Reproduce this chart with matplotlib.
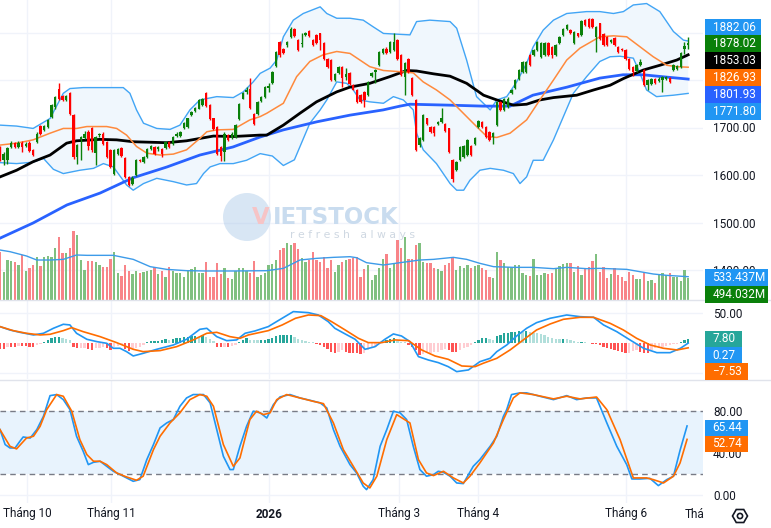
import matplotlib
matplotlib.use("Agg")
import matplotlib.pyplot as plt
from matplotlib.patches import Rectangle, Circle, RegularPolygon
from matplotlib.lines import Line2D
from matplotlib.transforms import IdentityTransform
import numpy as np

plt.rcParams['font.family'] = ['Roboto', 'DejaVu Sans']

# ---------------- data ----------------
opens = [1659,1631,1632,1659,1668,1659,1668,1662,1668,1652,1670,1703,1694,1701,1722,1743,1782,1766,1758,1772,
         1726,1638,1676,1678,1691,1698,1647,1684,1687,1670,1652,1603,1645,1657,1636,1596,1582,1600,1632,1628,
         1637,1654,1659,1654,1654,1656,1670,1666,1682,1683,1698,1701,1726,1735,1740,1747,1772,1747,1719,1701,
         1659,1649,1684,1677,1679,1717,1761,1775,1782,1729,1729,1756,1764,1784,1793,1829,1880,1866,1873,1891,
         1908,1884,1875,1894,1903,1884,1894,1898,1878,1845,1842,1800,1815,1828,1807,1815,1789,1779,1768,1775,
         1768,1808,1817,1831,1856,1866,1859,1863,1884,1852,1807,1845,1805,1758,1663,1673,1719,1701,1701,1707,
         1712,1708,1698,1631,1610,1631,1638,1642,1662,1665,1701,1712,1701,1691,1679,1705,1754,1736,1743,1773,
         1784,1803,1817,1817,1852,1852,1863,1849,1852,1877,1870,1852,1877,1894,1908,1905,1877,1898,1894,1927,
         1929,1929,1891,1919,1896,1891,1880,1889,1870,1866,1863,1845,1828,1819,1831,1821,1789,1791,1803,1798,
         1800,1803,1805,1821,1824,1828,1866,1873]
highs = [1662,1648,1659,1671,1670,1672,1671,1669,1671,1655,1690,1706,1705,1718,1749,1767,1793,1768,1768,1774,
         1728,1666,1683,1693,1694,1701,1683,1689,1690,1672,1655,1655,1657,1660,1638,1598,1597,1633,1634,1640,
         1656,1663,1661,1662,1656,1672,1672,1683,1691,1693,1712,1721,1735,1744,1760,1762,1774,1749,1721,1703,
         1661,1690,1686,1690,1707,1752,1775,1786,1805,1731,1756,1766,1788,1793,1819,1861,1882,1868,1882,1911,
         1910,1886,1898,1901,1906,1886,1897,1900,1880,1847,1844,1814,1830,1830,1826,1817,1791,1781,1770,1777,
         1798,1817,1824,1861,1868,1869,1882,1898,1886,1854,1837,1847,1807,1760,1680,1728,1721,1703,1703,1714,
         1742,1710,1700,1633,1630,1661,1663,1675,1664,1679,1716,1714,1703,1693,1691,1756,1756,1763,1764,1781,
         1802,1823,1840,1841,1854,1865,1882,1880,1880,1879,1872,1875,1893,1910,1917,1907,1903,1900,1926,1929,
         1931,1931,1914,1921,1898,1893,1887,1891,1872,1868,1865,1847,1830,1833,1845,1823,1802,1805,1805,1806,
         1809,1809,1807,1833,1831,1859,1880,1890]
lows = [1630,1621,1624,1656,1657,1656,1649,1659,1648,1640,1668,1684,1692,1699,1720,1740,1757,1755,1755,1727,
        1634,1624,1631,1676,1652,1649,1621,1681,1664,1636,1615,1600,1643,1637,1594,1576,1578,1598,1627,1626,
        1635,1652,1643,1651,1637,1654,1657,1664,1680,1681,1696,1699,1724,1733,1738,1745,1743,1716,1694,1642,
        1630,1630,1671,1675,1677,1715,1759,1770,1740,1705,1727,1754,1762,1775,1791,1827,1848,1854,1870,1889,
        1890,1862,1870,1892,1890,1871,1875,1863,1843,1826,1798,1798,1813,1786,1800,1789,1778,1752,1752,1743,
        1766,1806,1793,1829,1854,1855,1857,1861,1843,1808,1768,1815,1766,1650,1660,1671,1705,1689,1682,1705,
        1710,1691,1647,1585,1608,1629,1636,1640,1640,1663,1699,1699,1678,1671,1666,1703,1734,1734,1741,1771,
        1782,1801,1815,1815,1829,1850,1861,1846,1850,1850,1846,1850,1875,1892,1906,1896,1875,1890,1892,1913,
        1910,1910,1859,1885,1871,1871,1878,1871,1857,1861,1843,1822,1808,1817,1829,1787,1780,1789,1791,1796,
        1775,1801,1794,1819,1822,1826,1855,1865]
closes = [1638,1645,1656,1668,1659,1668,1659,1666,1651,1642,1687,1686,1703,1715,1747,1764,1759,1758,1766,1729,
          1637,1663,1680,1687,1661,1652,1680,1686,1666,1638,1617,1652,1654,1639,1596,1580,1594,1631,1629,1638,
          1654,1661,1645,1659,1644,1670,1659,1680,1687,1690,1710,1719,1733,1742,1758,1759,1745,1718,1696,1644,
          1639,1687,1673,1687,1705,1750,1772,1780,1742,1707,1754,1764,1786,1787,1817,1859,1852,1856,1880,1908,
          1892,1864,1878,1899,1892,1873,1877,1885,1845,1828,1800,1812,1828,1805,1813,1791,1780,1754,1754,1758,
          1796,1815,1822,1859,1866,1857,1880,1880,1845,1810,1835,1817,1768,1652,1677,1726,1707,1691,1689,1712,
          1719,1693,1649,1592,1628,1659,1661,1673,1642,1677,1714,1701,1680,1673,1689,1754,1736,1761,1761,1779,
          1800,1821,1838,1838,1831,1863,1880,1877,1878,1852,1852,1873,1891,1908,1915,1898,1901,1892,1924,1915,
          1912,1912,1912,1887,1873,1873,1885,1873,1859,1863,1845,1824,1817,1831,1838,1789,1800,1803,1793,1803,
          1807,1807,1796,1831,1829,1857,1871,1878.02]
volumes = [1106,648,915,892,877,801,1030,671,740,801,991,778,991,1007,976,1182,1449,1083,1068,1182,
           1586,1487,915,686,892,892,877,801,763,763,938,1106,625,549,801,671,595,671,625,648,
           664,686,747,595,671,534,747,671,610,625,534,671,701,747,610,610,877,518,518,839,
           595,724,496,473,671,724,724,671,610,900,534,572,610,801,824,915,1144,1182,1297,1258,
           1312,1159,953,877,915,1106,915,877,976,724,915,648,801,877,915,930,953,991,518,701,
           801,458,572,724,938,1052,724,839,1373,1182,1434,930,930,1258,1312,877,854,854,724,701,
           671,801,854,976,686,778,724,801,740,778,801,724,686,534,511,1106,915,854,763,747,
           801,801,610,572,549,938,572,572,610,587,610,701,778,824,839,854,641,778,572,724,
           747,900,1052,648,747,511,595,724,572,518,442,641,572,473,473,625,442,458,397,572,
           610,572,610,518,534,442,686,494.032]
macd_hist = [-10,-10,-5.6,-5.6,-5.6,-4.4,-4.4,-4.4,-5.6,-6,-2.8,-1.7,1.7,5.6,8.3,10,11.1,8.3,7.8,5.6,
             -5.6,-8.3,-8,-7.8,-9.4,-11.1,-8.3,-8,-5.6,-8.3,-11.1,-6.7,-4.4,-2.8,-10,-12.2,-10,-8.3,-5.6,-2.8,
             1.7,3.9,4,4.4,5.6,6.7,5.6,7.2,8.3,9.4,10.6,11.1,12.2,12.8,11.1,13.9,11.1,6.7,4.4,-5.6,
             -6.7,-5.6,-6.7,-4.4,-2.5,2,5.6,9.4,5.6,5.4,5.2,5.6,5.8,7.2,9.4,12.2,13.9,14,14.2,14.4,
             11.1,7.2,5.6,4.4,2.8,1.7,-1.1,-2.8,-5.6,-10,-13.9,-15.6,-13.9,-11.1,-13.9,-15.6,-15.8,-16.7,-17.8,-15.6,
             -11.1,-8.3,-5.6,-1.7,2.8,5.6,7.2,8.3,4.4,2.8,1.7,-2.8,-5.6,-11.1,-19.4,-18,-16.7,-15.6,-14.8,-13.9,
             -11.1,-10,-11.1,-13.9,-14,-11.1,-8.3,-5.6,-2.2,1.5,5.6,9.4,9.5,7.2,5.6,12.2,13.9,16.7,17.8,18.3,
             19.4,20.6,19.4,21.1,18.3,16.7,16.5,15,13.9,10,8.3,7.2,7.0,7.3,6.7,5.6,4.4,2.8,2.9,1.7,
             1.1,-1.7,-1.8,-2.8,-5.6,-7.2,-9.4,-11.1,-12.2,-13.9,-15.6,-15.4,-12.2,-11.1,-13.9,-15.6,-15.7,-11.1,-8.3,-7.2,
             -5.6,-4.4,-2.8,-1.7,-1.1,2.8,5.6,7.80]

# indicator lines (date index, value)
bb_upper_idx = [0,4.5,9,13.6,17.2,19,22.6,29,33.5,35.3,37.1,39,42.6,46.2,48.9,51.6,54.3,58.9,63.4,66.1,68.8,70.7,73.4,
                75.2,77,79.7,82.4,87,88.8,91.5,95.1,98.7,101.4,104.2,111.4,113.2,116.8,122.3,124.1,126.8,129.5,133.2,
                135,137.7,140.4,143.1,144.9,147.6,150.4,154,159.4,163,166.7,169.4,172.1,175.7,179.3,183,185.7,187]
bb_upper = [1705,1703,1698,1719,1772,1782,1784,1784,1784,1772,1737,1709,1698,1696,1705,1737,1758,1765,1763,1775,1796,1814,
            1825,1842,1891,1926,1940,1954,1940,1930,1930,1926,1912,1898,1895,1923,1926,1923,1909,1842,1765,1737,
            1758,1765,1796,1835,1870,1905,1926,1940,1944,1944,1940,1944,1958,1961,1944,1902,1884,1882.06]
bb_lower_idx = [0,4.5,9,11.8,14.5,17.2,21.7,25.4,28.1,30.8,34.4,36.2,39,42.6,47.1,50.7,53.4,55.3,57.1,59.8,63.4,67,70.7,
                74,77,80,84.2,87,88.8,91.5,94.2,96,97.8,100.5,104.2,106.9,109.6,112.3,113.2,115,118.6,122.3,124.1,126,
                127.7,130.4,133.2,136.8,139.5,141.3,143.1,144.9,147.6,150.4,153.1,155.8,159.4,163,165.8,168.5,172.1,
                173.9,175.7,178.4,183,187]
bb_lower = [1626,1624,1627,1635,1612,1603,1610,1614,1624,1617,1579,1568,1582,1593,1586,1579,1582,1603,1617,1624,1624,1631,
            1645,1640,1620,1632,1709,1737,1758,1796,1793,1779,1758,1754,1751,1765,1758,1737,1688,1653,1624,1582,1568,
            1568,1589,1610,1614,1610,1603,1582,1596,1631,1631,1674,1723,1772,1807,1839,1849,1850,1846,1814,1779,1765,
            1768,1771.80]
sma20_idx = [0,4.5,9,13.6,17.2,20.8,23.6,29,31.7,34.4,37.1,39.9,43.5,47.1,50.7,54.3,56.2,58.9,63.4,67.9,70.7,72.5,77,
             80.6,84.2,87.8,91.5,95.1,97.8,100.5,104.2,109.6,112.3,115,118.6,122.3,125.9,129.5,132.3,135,138.6,143.1,
             146.7,150.4,154,157.6,163,166.7,170.3,173.9,177.5,181.2,183.9,187]
sma20 = [1663,1667,1674,1688,1698,1698,1702,1702,1698,1684,1660,1646,1642,1644,1653,1677,1691,1695,1696,1716,1723,1730,
         1751,1807,1839,1853,1860,1856,1842,1828,1820,1817,1815,1796,1779,1758,1730,1702,1681,1679,1688,1716,1758,1800,
         1842,1867,1891,1893,1891,1870,1849,1831,1828,1826.93]
ma50_idx = [0,4.5,9,13.6,18.1,20.8,27.2,31.7,36.2,45.3,50.7,58,63.4,70.7,72.5,77,81.5,86,91.5,95.1,100.5,105.9,110.5,
            113.2,117.8,122.3,126.8,131.4,135,139.5,143.1,146.7,150.4,156.7,161.3,165.8,169.4,174.8,179.3,183.9,187]
ma50 = [1596,1610,1628,1642,1667,1672,1675,1674,1670,1668,1672,1682,1681,1684,1684,1705,1730,1754,1775,1785,1793,1807,
        1820,1819,1813,1808,1793,1768,1758,1747,1749,1758,1763,1768,1779,1789,1803,1821,1831,1842,1853.03]
ma200_idx = [0,9,18.2,27.2,36.1,45.4,54.3,63.3,70.7,77,86.1,95.1,104.1,108.7,111.4,122.3,131.3,138.6,144.8,154.1,163,
             169.3,174.7,181.3,187]
ma200 = [1467,1499,1537,1562,1594,1617,1642,1659,1680,1695,1712,1726,1737,1745,1749,1747,1745,1745,1768,1785,1804,
         1811,1811,1806,1801.93]
vol_ma_idx = [0,2.7,7.2,10,13.6,17.2,20.8,23.6,30.8,36.2,40.8,45.3,50.7,56.2,63.4,72.5,77,81.5,86,90.6,95.1,96.9,99.6,
              104.2,108.7,114.1,117.8,123.2,126.8,130.4,134.1,139.5,144.9,150.4,154,159.4,163,170.3,173.9,177.5,181.2,187]
vol_ma = [1144,1106,1007,915,915,930,1030,1022,1022,930,763,701,671,664,664,671,724,915,953,976,991,968,854,801,854,
          915,930,976,930,839,763,747,747,717,747,717,724,701,648,595,564,533.437]
macd_idx = [0,2.7,5.4,9.1,11.8,14.5,17.2,19,20.8,23.6,26.3,29,30.8,32.6,34.4,36.2,38.9,42.6,47.1,50.7,54.3,56.2,58.9,
            61.6,64.3,66.6,69.3,72.9,75.6,79.7,83.8,86.5,89.2,91,93.8,96.5,99.2,101.9,104.6,106.9,109.1,111.4,113.7,
            116.4,119.1,121.8,124.1,127.3,130.4,133.2,135,137.7,140.4,143.1,145.8,149.5,154,157.6,161.3,164,167.6,
            171.2,174.9,178.5,182.1,184.9,187]
macd_line = [27.8,22.2,18.3,13.9,16.7,25,31.7,30.6,16.7,6.7,2.8,0,-8.3,-8.3,-13.9,-21.1,-16.7,-10,-2.8,6.7,23.3,25,
             11.1,4.4,5.6,16.7,20.6,27.8,37.8,52.8,51.1,47.2,36.1,25,15.6,6.7,-10,-5.6,6.7,15.6,12.2,2.8,-22.2,-27.8,
             -32.2,-38.9,-47.2,-44.4,-30.6,-25,-13.9,-2.8,12.2,25,34.4,41.7,47.2,44.4,43.3,30.6,19.4,5.6,-8.3,-15.6,
             -15.6,-8.3,0.27]
signal_idx = [0,3.6,7.2,10.9,13.6,17.2,19.5,22.6,27.2,31.7,36.2,38.9,43.5,48,52.5,56.2,58.9,62.5,65.2,67.5,72.9,76.7,
              80.3,83.8,87.2,90.1,93.8,97.4,100.1,103.7,107.3,111,114.6,118.2,121.8,125.5,129.1,131.3,135,138.6,142.2,
              145.8,149.5,153.1,157.6,161.3,165.8,169.4,173,176.7,180.3,184,187]
signal_line = [27.8,21.1,16.7,13.9,15,21.1,26.1,19.4,11.1,1.1,-10,-13.9,-12.2,-5.6,5.6,16.7,18.3,11.1,8.3,13.9,21.1,
               30.6,41.7,47.2,46.1,36.1,22.2,8.3,1.1,1.1,5.6,4.4,-11.1,-21.1,-26.7,-37.8,-38.9,-33.3,-25,-11.1,5.6,
               22.2,32.2,40,43.3,43.3,33.3,22.2,8.3,-2.8,-8.3,-11.1,-7.53]
stoch_k_idx = [0,1.4,2.7,4.1,5.4,6.3,8.2,10,11.8,13.6,15.4,17.2,19,20.8,22.6,24,25.4,27.2,29,30.8,33.5,36.2,38,39.9,
               41.7,43.5,45.3,47.1,48.9,50.7,52.5,55.3,57.1,58.9,60.7,62.5,63.4,65.2,67,68.8,70.7,72.5,74.3,76.1,78.8,
               81.5,84.2,87,88.8,90.6,92.4,95.1,96.9,98.7,99.6,101.4,103.3,105.1,106.9,108.7,110.5,112.3,114.1,115.9,
               117.8,119.1,120.5,122.3,124.1,125.9,128.6,130.4,133.2,135,136.8,137.7,139,141.3,143.1,146.7,150.4,154,
               156.7,159.4,162.1,164.9,167.6,170.3,171.7,173.9,176.6,178.9,181.2,183,184.8,186.7]
stoch_k = [62,47.8,44.6,44.6,50.9,55,54,62,74.6,94.2,95.2,90.4,81,55.7,41.5,28.8,31,32,27.2,22.5,17.8,13,14.6,33.6,
           47.8,63.6,68.3,71.5,84.1,92,95.2,95.2,87.3,62,36.7,24.1,24.1,46.2,65.1,79.4,77.9,73,85.7,93,95.2,92,89.8,
           87.3,82.5,62,46.2,28.8,20.9,8.3,5.1,14.6,46.2,62,79.4,77.9,71.5,46.2,24.1,17.8,19.3,22.5,21.5,17.8,11.4,
           10.8,27.2,33.6,46.2,55.7,74.6,81,95.2,96.8,96.8,93.6,90.4,94.2,90.4,92,92,68.3,46.2,28.8,15.2,15.2,15.8,
           8.9,14.6,17.8,42.4,65.44]
stoch_d_idx = [0,2.7,4.5,7.2,9.1,10.9,12.7,15.4,17.2,19.5,21.7,23.6,25.4,27.2,29,31.7,34.4,37.1,38.9,41.7,43.5,46.2,
               48.9,51.6,54.3,56.2,58,60.7,63.4,65.2,67.9,69.7,71.6,73.4,75.2,77.9,81.5,85.1,87.9,90.6,93.3,96,98.7,
               100.5,102.4,105.1,107.8,111.4,113.7,115.9,117.8,120.5,123.2,125.9,127.7,130.4,134.1,136.8,139.5,141.3,
               144.9,150.4,154,157.6,162.1,164.9,168.5,172.1,175.7,177.5,180.3,183,184.8,186.7]
stoch_d = [62,46.2,43.7,54,55.7,65.1,81,95.2,93.6,79.4,52.5,38.3,32,32,28.8,20.9,17.1,14,17.8,43,55.7,68.3,77.9,90.4,
           95.2,93.6,84.1,47.8,27.2,35.1,71.5,79.4,76.2,77.9,90.4,95.2,92,88.8,86.6,68.3,43,27.2,11.4,6.7,17.8,52.5,
           76.2,68.3,33.6,20.9,18.4,22.5,16.2,11.4,17.8,30.4,49.4,71.5,92,96.8,95.2,91.1,93.6,91.1,92.9,80.9,52.5,
           16.2,16.2,14.6,11.4,17.8,30.4,52.74]

month_pos = [7.3, 30.2, 73.1, 108.4, 130.0, 170.1]
month_labels = ['Tháng 10', 'Tháng 11', '2026', 'Tháng 3', 'Tháng 4', 'Tháng 6']
price_grid = [1400, 1500, 1600, 1700, 1800, 1900]
price_ticks = [1400, 1500, 1600, 1700]
stoch_ticks = [0, 40, 80]

# ---------------- layout ----------------
W, H = 771, 528
PR = 703
STEP = 3.68
XMAX = PR / STEP
fig = plt.figure(figsize=(W / 100, H / 100), dpi=100)
fig.patch.set_facecolor('white')
TXT = '#131722'
GRID = '#f0f3fa'


def pane(top, bottom, ylim, ticks=None, fmt='{:.2f}'):
    ax = fig.add_axes([0, 1 - bottom / H, PR / W, (bottom - top) / H])
    ax.set_xlim(0, XMAX)
    ax.set_ylim(*ylim)
    for s in ax.spines.values():
        s.set_visible(False)
    ax.set_xticks([])
    ax.yaxis.tick_right()
    ax.tick_params(axis='y', length=0, pad=7.2, labelsize=8.5, labelcolor=TXT)
    if ticks is not None:
        ax.set_yticks(ticks)
        ax.set_yticklabels([fmt.format(t) for t in ticks])
    else:
        ax.set_yticks([])
    for m in month_pos:
        ax.axvline(m, color=GRID, lw=1, zorder=0)
    ax.patch.set_alpha(0)
    return ax


idx = np.arange(len(closes))
o = np.array(opens, float); c = np.array(closes, float)
hi = np.array(highs, float); lo = np.array(lows, float)
up = c >= o

# price pane
axp = pane(0, 300, (1700 - 172.5 / 0.475, 1700 + 127.5 / 0.475), price_ticks)
for t in price_grid:
    axp.axhline(t, color=GRID, lw=1, zorder=0)
poly_x = np.concatenate([bb_upper_idx, bb_lower_idx[::-1]])
poly_y = np.concatenate([bb_upper, bb_lower[::-1]])
axp.fill(poly_x, poly_y, color='#f0f7fd', lw=0, zorder=1)
axp.plot(bb_upper_idx, bb_upper, color='#42a5f5', lw=1.0, zorder=2)
axp.plot(bb_lower_idx, bb_lower, color='#42a5f5', lw=1.0, zorder=2)
axp.plot(ma200_idx, ma200, color='#2962ff', lw=2.0, zorder=3)
axp.plot(ma50_idx, ma50, color='black', lw=2.0, zorder=3)
axp.plot(sma20_idx, sma20, color='#ff8a3d', lw=1.1, zorder=3)
ccol = np.where(up, '#0a800a', '#ff0000')
axp.vlines(idx, lo, hi, colors=ccol, lw=1, zorder=4)
axp.bar(idx, np.maximum(np.abs(c - o), 1.6), bottom=np.minimum(o, c), width=0.66,
        color=ccol, linewidth=0, zorder=5)

# volume overlay
axv = fig.add_axes([0, 1 - 300 / H, PR / W, 300 / H])
axv.set_xlim(0, XMAX)
axv.set_ylim(0, 300 / 0.0437)
axv.axis('off')
axv.patch.set_alpha(0)
vcol = np.where(up, '#80c080', '#f88488')
axv.bar(idx, volumes, width=0.62, color=vcol, linewidth=0, zorder=2)
axv.plot(vol_ma_idx, vol_ma, color='#3d9be9', lw=1.0, zorder=3)

# MACD pane
axm = pane(301, 379, (-(379 - 343.3) / 0.6, (343.3 - 301) / 0.6), [50])
for t in (50, -50):
    axm.axhline(t, color=GRID, lw=1, zorder=0)
hist = np.array(macd_hist, float)
prev = np.concatenate([[hist[0]], hist[:-1]])
hcol = np.where(hist >= 0, np.where(prev < hist, '#26a69a', '#b2dfdb'),
                np.where(prev < hist, '#ffcdd2', '#ff5252'))
axm.bar(idx, hist, width=0.62, color=hcol, linewidth=0, zorder=2)
axm.plot(macd_idx, macd_line, color='#2196f3', lw=1.2, zorder=3)
axm.plot(signal_idx, signal_line, color='#ff6d00', lw=1.2, zorder=3)

# Stochastic pane
axs = pane(381, 503, (-(503 - 495) / 1.055, (495 - 381) / 1.055), stoch_ticks)
for t in (0, 40):
    axs.axhline(t, color=GRID, lw=1, zorder=0)
axs.axhspan(20, 80, color='#e8f3fd', lw=0, zorder=0.5)
for t in (20, 80):
    axs.axhline(t, color='#787b86', lw=1, dashes=(4, 3), zorder=1)
axs.plot(stoch_k_idx, stoch_k, color='#2196f3', lw=1.2, zorder=3)
axs.plot(stoch_d_idx, stoch_d, color='#ff6d00', lw=1.2, zorder=3)

ID = IdentityTransform()

# separators
for ysep in (300, 380):
    fig.add_artist(Line2D([0, W], [H - ysep, H - ysep], transform=ID, color='#e0e3eb', lw=1, zorder=2))

# watermark
fig.add_artist(Circle((247, H - 217), 24, transform=ID, color='#a9c8e8', alpha=0.45, lw=0, zorder=1))
fig.text(252, H - 218, 'V', transform=ID, fontsize=16.5, fontweight='bold', family='DejaVu Sans',
         color='#f6c4c6', va='center', ha='left', zorder=1)
fig.text(273, H - 218, 'IETSTOCK', transform=ID, fontsize=16.5, fontweight='bold', family='DejaVu Sans',
         color='#c9dcef', va='center', ha='left', zorder=1)
fig.text(290, H - 235, 'r e f r e s h   a l w a y s', transform=ID, fontsize=7.8, family='DejaVu Sans',
         color='#cfd8e2', va='center', ha='left', zorder=1)


# value boxes
def box(yc, text, color, w, h=17):
    fig.add_artist(Rectangle((705, H - yc - h / 2), w, h, transform=ID, fc=color, ec='none', zorder=5))
    fig.text(712.5, H - yc, text, transform=ID, color='white', fontsize=8.5, va='center', ha='left', zorder=6)


box(27.3, f'{bb_upper[-1]:.2f}', '#2196f3', 56)
box(43.8, f'{closes[-1]:.2f}', '#0a800a', 56)
box(60.7, f'{ma50[-1]:.2f}', '#000000', 56)
box(77.7, f'{sma20[-1]:.2f}', '#ff6d00', 56)
box(94.7, f'{ma200[-1]:.2f}', '#2962ff', 56)
box(111.7, f'{bb_lower[-1]:.2f}', '#2196f3', 56)
box(277.5, f'{vol_ma[-1]:.3f}M', '#2196f3', 63)
box(294.2, f'{volumes[-1]:.3f}M', '#0a800a', 63)
box(339, f'{macd_hist[-1]:.2f}', '#26a69a', 37, 16.5)
box(355.3, f'{macd_line[-1]:.2f}', '#2196f3', 37, 16.5)
box(371.7, f'{signal_line[-1]:.2f}'.replace('-', '\u2212'), '#ff6d00', 43, 16.5)
box(427.7, f'{stoch_k[-1]:.2f}', '#2196f3', 43, 16)
box(443.5, f'{stoch_d[-1]:.2f}', '#ff6d00', 43, 16)

# time axis labels
for m, lab in zip(month_pos, month_labels):
    fig.text(m * STEP, H - 514, lab, transform=ID, ha='center', va='center', fontsize=8.5, color=TXT,
             fontweight='bold' if lab == '2026' else 'normal')
fig.text(685, H - 514, 'Thá', transform=ID, ha='left', va='center', fontsize=8.5, color=TXT)

# settings icon
fig.add_artist(RegularPolygon((740, H - 516), 6, radius=7.5, orientation=np.pi / 6, transform=ID,
                              fill=False, ec=TXT, lw=1.2, zorder=5))
fig.add_artist(Circle((740, H - 516), 2.6, transform=ID, fill=False, ec=TXT, lw=1.2, zorder=5))

fig.savefig('out.png', dpi=100)
